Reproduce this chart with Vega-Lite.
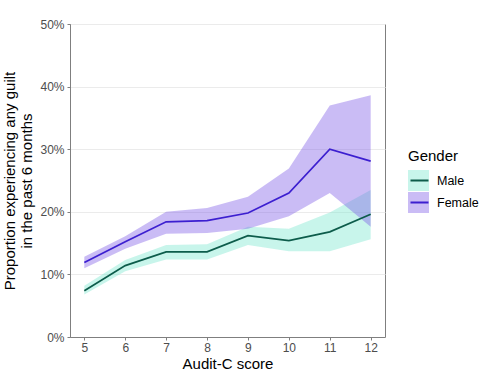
{
  "$schema": "https://vega.github.io/schema/vega-lite/v6.json",
  "width": 315,
  "height": 313,
  "autosize": {"type": "none"},
  "padding": {"left": 70, "top": 24, "right": 103, "bottom": 48},
  "config": {
    "font": "Liberation Sans",
    "view": {"stroke": "#7f7f7f", "strokeWidth": 1},
    "axis": {"domainColor": "#7f7f7f", "tickColor": "#7f7f7f", "tickSize": 3, "labelColor": "#4d4d4d", "labelFontSize": 12, "titleFontSize": 15, "titleFontWeight": "normal", "titleColor": "black"}
  },
  "data": {
    "values": [
      {"Gender": "Male", "score": 5, "prop": 0.074, "lower": 0.068, "upper": 0.082},
      {"Gender": "Male", "score": 6, "prop": 0.114, "lower": 0.105, "upper": 0.123},
      {"Gender": "Male", "score": 7, "prop": 0.136, "lower": 0.124, "upper": 0.147},
      {"Gender": "Male", "score": 8, "prop": 0.136, "lower": 0.124, "upper": 0.148},
      {"Gender": "Male", "score": 9, "prop": 0.162, "lower": 0.147, "upper": 0.176},
      {"Gender": "Male", "score": 10, "prop": 0.154, "lower": 0.137, "upper": 0.173},
      {"Gender": "Male", "score": 11, "prop": 0.168, "lower": 0.137, "upper": 0.199},
      {"Gender": "Male", "score": 12, "prop": 0.196, "lower": 0.156, "upper": 0.235},
      {"Gender": "Female", "score": 5, "prop": 0.119, "lower": 0.110, "upper": 0.128},
      {"Gender": "Female", "score": 6, "prop": 0.152, "lower": 0.141, "upper": 0.161},
      {"Gender": "Female", "score": 7, "prop": 0.184, "lower": 0.165, "upper": 0.200},
      {"Gender": "Female", "score": 8, "prop": 0.186, "lower": 0.166, "upper": 0.206},
      {"Gender": "Female", "score": 9, "prop": 0.198, "lower": 0.173, "upper": 0.224},
      {"Gender": "Female", "score": 10, "prop": 0.230, "lower": 0.193, "upper": 0.269},
      {"Gender": "Female", "score": 11, "prop": 0.300, "lower": 0.230, "upper": 0.370},
      {"Gender": "Female", "score": 12, "prop": 0.281, "lower": 0.176, "upper": 0.386}
    ]
  },
  "encoding": {
    "x": {
      "field": "score", "type": "quantitative",
      "scale": {"domain": [4.65, 12.35], "nice": false, "zero": false},
      "axis": {"values": [5, 6, 7, 8, 9, 10, 11, 12], "grid": false, "labelPadding": 2, "title": "Audit-C score", "titlePadding": 3}
    }
  },
  "layer": [
    {
      "transform": [{"filter": "datum.Gender === 'Male'"}],
      "mark": {"type": "area", "fillOpacity": 0.4},
      "encoding": {
        "y": {"field": "lower", "type": "quantitative", "scale": {"domain": [0, 0.5], "nice": false},
          "axis": {"values": [0, 0.1, 0.2, 0.3, 0.4, 0.5], "format": ".0%", "grid": true, "gridColor": "#ebebeb", "labelPadding": 3, "title": ["Proportion experiencing any guilt", "in the past 6 months"], "titleLineHeight": 17, "titlePadding": 5}},
        "y2": {"field": "upper"},
        "fill": {"field": "Gender", "type": "nominal",
          "scale": {"domain": ["Male", "Female"], "range": ["#76e6cd", "#7a58e6"]},
          "legend": {"title": "Gender", "orient": "none", "legendX": 338, "legendY": 125, "padding": 0, "symbolType": "square", "symbolSize": 441, "symbolOpacity": 0.4, "symbolStrokeWidth": 0, "clipHeight": 21, "rowPadding": 1, "titleFontSize": 15, "titleFontWeight": "normal", "titleColor": "black", "titlePadding": 6, "labelFontSize": 12.5, "labelColor": "black", "labelOffset": 8}}
      }
    },
    {
      "transform": [{"filter": "datum.Gender === 'Female'"}],
      "mark": {"type": "area", "fillOpacity": 0.4},
      "encoding": {
        "y": {"field": "lower", "type": "quantitative"},
        "y2": {"field": "upper"},
        "fill": {"field": "Gender", "type": "nominal"}
      }
    },
    {
      "mark": {"type": "line", "strokeWidth": 1.7},
      "encoding": {
        "y": {"field": "prop", "type": "quantitative"},
        "stroke": {"field": "Gender", "type": "nominal", "sort": ["Male", "Female"],
          "scale": {"range": ["#0d5c4b", "#3c1fd0"]},
          "legend": {"title": "Gender", "titleOpacity": 0, "orient": "none", "legendX": 339.5, "legendY": 125, "padding": 0, "symbolType": "stroke", "symbolSize": 324, "symbolStrokeWidth": 2, "clipHeight": 21, "rowPadding": 1, "titleFontSize": 15, "titleFontWeight": "normal", "titlePadding": 6, "labelFontSize": 12.5, "labelExpr": "''", "labelOffset": 8}}
      }
    }
  ]
}
